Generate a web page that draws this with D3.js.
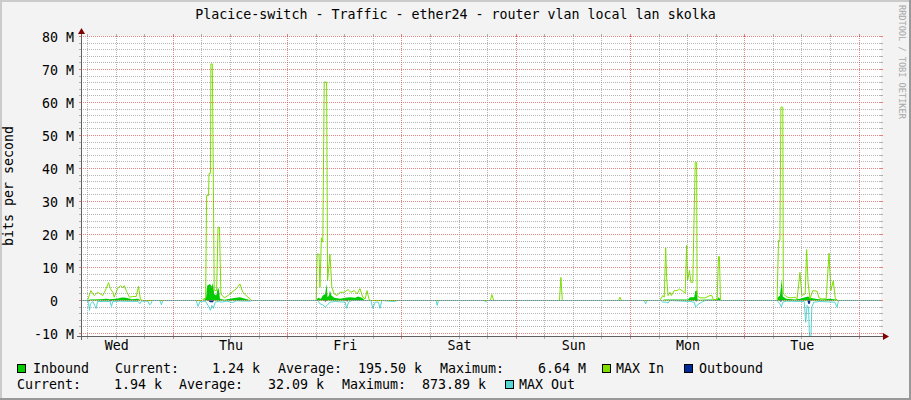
<!DOCTYPE html>
<html lang="en">
<head>
<meta charset="UTF-8"/>
<script src="https://d3js.org/d3.v7.min.js"></script>
<title>Placice-switch traffic</title>
<style>
  body { margin: 0; background: #f3f3f3; }
  svg text { font-family: "DejaVu Sans Mono", monospace; white-space: pre; }
</style>
</head>
<body>
<script type="text/javascript">
// values are Mbit/s, time is hours counted from Wednesday 00:00
var windowStartHour = 4.62;
var windowEndHour   = 172.62;
var yMin = -10.91, yMax = 80;

var maxInHours = [4.6, 6.0, 6.7, 7.4, 8.1, 9.2, 9.9, 10.4, 10.8, 11.3, 11.6, 12.3, 12.9, 13.4, 13.7, 14.2, 14.8, 15.5, 16.2, 16.7, 17.1, 17.6,
  30.0, 30.2, 30.8, 31.0, 31.4, 31.5, 31.8, 31.9, 32.2, 32.6, 33.1, 33.4, 33.7, 34.0, 34.7, 35.5, 36.3, 37.2, 38.0, 38.6, 39.3, 40.1, 40.5,
  54.0, 54.2, 54.6, 54.8, 55.1, 55.4, 55.7, 56.2, 56.4, 56.9, 57.3, 57.8, 58.4, 59.0, 59.9, 60.7, 61.3, 62.0, 62.6, 63.2, 63.8, 64.3, 64.7, 65.1, 65.5,
  90.6, 90.9, 91.3,
  105.1, 105.4, 105.7,
  117.5, 117.8, 118.1,
  126.2, 126.8, 127.1, 127.4, 127.6, 127.9, 128.3, 128.6, 129.2, 129.8, 130.3, 131.0, 131.5, 131.8, 132.0, 132.4, 132.7, 133.1, 133.6, 133.9, 134.0, 134.6, 135.7, 136.7, 137.1, 137.4, 138.2, 138.5, 138.7, 138.9, 139.2,
  150.8, 151.1, 151.4, 151.6, 152.0, 152.1, 152.9, 153.7, 154.6, 155.0, 155.6, 156.0, 156.7, 157.0, 157.3, 157.7, 158.3, 159.2, 159.6, 160.2, 161.1, 161.7, 162.1, 162.6, 163.0, 163.3, 163.6,
  172.6];
var maxInValues = [0, 0, 3, 1.5, 2.5, 1.5, 3.6, 5.4, 3.6, 2.5, 1, 3.6, 4.5, 3.9, 4.5, 2.7, 1, 1.2, 1.2, 4.3, 0.3, 0,
  0, 0.3, 0.8, 31.8, 31.8, 38.5, 38.5, 71.7, 71.7, 3, 3, 22.2, 22.2, 2, 0.8, 1.5, 2.5, 3.5, 5, 2.5, 1.5, 0.5, 0,
  0, 14.1, 14, 4, 19, 17.7, 66.2, 66.2, 6, 14, 4, 2, 1.5, 2.5, 2.5, 3.3, 2.5, 3, 2, 3.6, 1, 0.5, 3, 0.3, 0,
  0, 1.8, 0,
  0, 7, 0,
  0, 1, 0,
  0, 1.5, 1, 16, 7, 1.5, 2.5, 1.5, 3, 3, 3.5, 2.8, 2.2, 16.7, 6, 9.1, 5.5, 5.5, 41.9, 41.9, 1.5, 0.8, 0.8, 1.5, 1.5, 0.3, 0.3, 13.3, 13.3, 0.3, 0,
  0, 18.2, 18.2, 58.6, 58.6, 2, 1, 0.8, 1, 0.5, 8.5, 1.5, 2, 15.4, 5.5, 0.5, 3, 2.8, 0.8, 0.5, 0.5, 14.3, 3, 6, 0.8, 0.2, 0,
  0];

var inHours = [4.6, 5.9, 6.5, 8.6, 9.9, 10.7, 12.4, 13.2, 14.1, 15.3, 16.6, 17.2,
  30.4, 30.9, 31.1, 31.7, 32.1, 32.3, 32.6, 33.0, 33.4, 33.6, 33.8, 34.7, 35.9, 37.2, 38.0, 38.9, 39.7, 40.3,
  54.0, 54.4, 55.0, 55.4, 55.9, 56.2, 56.4, 56.7, 56.9, 57.2, 57.8, 59.0, 60.1, 61.1, 62.2, 62.8, 63.6, 64.3,
  126.6, 127.1, 130.4, 132.1, 132.5, 133.4, 133.6, 134.0, 134.1, 134.6, 136.7, 138.2, 138.5, 138.8, 139.0,
  150.8, 151.0, 151.4, 151.8, 152.0, 152.7, 154.6, 155.6, 156.7, 157.3, 157.7, 158.8, 160.2, 161.9, 163.2, 163.6,
  172.6];
var inValues = [0, 0, 0.3, 0.4, 0.5, 0.4, 0.6, 0.9, 0.8, 0.4, 0.5, 0,
  0, 1, 4.5, 5, 4.2, 5.3, 2, 1.5, 4, 3, 0.5, 0.2, 0.5, 0.8, 1, 0.6, 0.3, 0,
  0, 0.8, 0.5, 1.5, 2, 5, 1, 1.5, 3, 1.5, 0.8, 0.5, 0.8, 1, 0.8, 1.2, 0.8, 0,
  0, 0.3, 0.3, 0.3, 1, 1, 2.8, 3, 0.3, 0.2, 0.3, 0.2, 1, 0.5, 0,
  0, 1, 1.5, 6.5, 1.2, 0.5, 0.3, 0.5, 1, 1.2, 0.8, 0.5, 0.3, 0.5, 0.3, 0,
  0];

var outHours = [4.6, 6.1, 6.3, 6.5, 10.7, 10.9, 11.1, 31.3, 31.7, 32.3, 32.6, 55.7, 55.9, 56.3, 60.3, 60.5, 60.7,
  133.6, 133.8, 134.0, 151.4, 151.6, 151.8, 157.2, 157.3, 157.7, 157.8, 172.6];
var outValues = [0, 0, -0.4, 0, 0, -0.4, 0, 0, -0.5, -0.5, 0, 0, -0.4, 0, 0, -0.4, 0,
  0, -0.4, 0, 0, -0.5, 0, 0, -1, -1, 0, 0];

var maxOutHours = [4.6, 5.9, 6.2, 6.4, 6.6, 7.1, 7.8, 8.1, 10.7, 11.0, 11.3, 12.8, 16.6, 17.0, 17.3, 18.7, 19.0, 19.3, 19.6, 21.2, 21.5, 21.8,
  28.8, 29.2, 29.6, 30.7, 31.1, 31.5, 31.8, 32.1, 32.4, 32.8, 33.4, 34.2, 35.1, 36.5, 37.2, 40.1, 40.5,
  54.4, 54.8, 55.4, 55.9, 56.3, 56.9, 58.0, 60.1, 60.4, 60.8, 61.5, 65.5, 65.9, 66.4, 67.1, 67.4, 67.8, 70.4, 71.0,
  79.2, 79.4, 79.7, 89.3, 89.6, 89.9,
  122.9, 123.2, 123.5, 126.4, 126.8, 127.5, 127.9, 128.3, 132.5, 133.4, 133.7, 134.0, 134.4, 135.0, 135.7,
  150.8, 151.1, 151.4, 151.7, 152.0, 152.7, 156.5, 156.8, 157.1, 157.4, 157.6, 157.9, 158.1, 158.5, 159.8, 162.9, 163.4, 163.7,
  172.6];
var maxOutValues = [0, 0, -0.8, -3, -1, -0.3, -2.4, -0.3, -0.3, -1.8, -0.3, -0.2, -0.3, -1, -0.2, -0.2, -1.3, -1, 0, 0, -1.3, 0,
  0, -1.8, -0.3, -0.2, -1, -2, -3, -1.5, -2.4, -0.5, -0.3, -0.5, -0.2, -0.6, -0.1, -0.2, 0,
  0, -1, -1.3, -2, -1.5, -0.5, -0.3, -0.5, -2.4, -0.5, 0, 0, -2.4, -0.5, -0.5, -2.4, 0, -0.3, 0,
  0, -1.5, 0, 0, -0.5, 0,
  0, -1, 0, 0, -0.5, -0.5, -0.8, 0, -0.3, -0.5, -2, -1.5, -1, -0.5, 0,
  0, -0.5, -1, -2, -0.5, -0.2, -0.3, -6.6, -1.5, -2, -11, -11, -2, -0.5, -0.3, -0.5, -2, 0,
  0];

var yTickValues  = [-10, 0, 10, 20, 30, 40, 50, 60, 70, 80];
var titleText    = "Placice-switch - Traffic - ether24 - router vlan local lan skolka";
var yTitle       = "bits per second";
var seriesNames  = ["Inbound", "MAX In", "Outbound", "MAX Out"];
var statNames    = ["Current:", "Average:", "Maximum:"];
var inStats      = ["1.24 k", "195.50 k", "6.64 M"];
var outStats     = ["1.94 k", "32.09 k", "873.89 k"];
var watermark    = "RRDTOOL / TOBI OETIKER";

var colIn = "#00cc00", colMaxIn = "#7fe000", colOut = "#002a97", colMaxOut = "#55d6d3";

var w = 911, h = 400;
var plotL = 81, plotR = 881, plotT = 36, plotB = 336;

var baseDay = new Date(2024, 0, 3);   // a Wednesday
function hourToDate(hr) { return new Date(baseDay.getTime() + hr * 3600000); }
function zip(hs, vs) { return hs.map(function(t, i) { return { t: hourToDate(t), v: vs[i] }; }); }

var xScale = d3.scaleTime()
               .domain([hourToDate(windowStartHour), hourToDate(windowEndHour)])
               .range([plotL, plotR]);
var yScale = d3.scaleLinear()
               .domain([yMin, yMax])
               .range([plotB + 0.5, plotT + 0.5]);

var svg = d3.select("body").append("svg")
            .attr("width", w).attr("height", h).style("display", "block");

// background and shading
svg.append("rect").attr("width", w).attr("height", h).attr("fill", "#f3f3f3");
svg.append("path").attr("d", "M0,0H" + w + "V2H2V" + h + "H0Z").attr("fill", "#cbcbcb");
svg.append("path").attr("d", "M" + w + ",0V" + h + "H0V" + (h - 2) + "H" + (w - 2) + "V0Z").attr("fill", "#999999");
svg.append("rect").attr("x", plotL).attr("y", plotT).attr("width", plotR - plotL).attr("height", plotB - plotT)
   .attr("fill", "#ffffff");

// data
svg.append("clipPath").attr("id", "plot").append("rect")
   .attr("x", plotL).attr("y", plotT).attr("width", plotR - plotL).attr("height", plotB - plotT + 1);
var g = svg.append("g").attr("clip-path", "url(#plot)");

var line = d3.line().x(function(d) { return xScale(d.t); }).y(function(d) { return yScale(d.v); });
var area = d3.area().x(function(d) { return xScale(d.t); })
             .y0(yScale(0)).y1(function(d) { return yScale(d.v); });

g.append("path").datum(zip(inHours, inValues)).attr("d", area).attr("fill", colIn);
g.append("path").datum(zip(maxInHours, maxInValues)).attr("d", line)
 .attr("fill", "none").attr("stroke", colMaxIn).attr("stroke-width", 1);
g.append("path").datum(zip(outHours, outValues)).attr("d", area).attr("fill", colOut);
g.append("path").datum(zip(maxOutHours, maxOutValues)).attr("d", line)
 .attr("fill", "none").attr("stroke", colMaxOut).attr("stroke-width", 1);

// grid (drawn over the data, like rrdtool)
var minorCol = "rgba(130,130,130,0.6)", majorCol = "rgba(215,50,50,0.6)";
var grid = svg.append("g").attr("shape-rendering", "crispEdges");
d3.range(-10, 81, 2).forEach(function(v) {
    var y = Math.round(yScale(v) - 0.5) + 0.5;
    var c = (v % 10 === 0) ? majorCol : minorCol;
    grid.append("line").attr("x1", plotL).attr("x2", plotR).attr("y1", y).attr("y2", y)
        .attr("stroke", c).attr("stroke-dasharray", "1,1");
    grid.append("line").attr("x1", plotL - 2).attr("x2", plotL + 1).attr("y1", y).attr("y2", y).attr("stroke", c);
    grid.append("line").attr("x1", plotR - 1).attr("x2", plotR + 2).attr("y1", y).attr("y2", y).attr("stroke", c);
});
d3.timeHour.every(6).range(xScale.domain()[0], xScale.domain()[1]).forEach(function(t) {
    var x = Math.floor(xScale(t)) + 0.5;
    var c = (t.getHours() === 0) ? majorCol : minorCol;
    grid.append("line").attr("x1", x).attr("x2", x).attr("y1", plotT).attr("y2", plotB)
        .attr("stroke", c).attr("stroke-dasharray", "1,1");
    grid.append("line").attr("x1", x).attr("x2", x).attr("y1", plotB - 1).attr("y2", plotB + 3).attr("stroke", c);
    grid.append("line").attr("x1", x).attr("x2", x).attr("y1", plotT - 2).attr("y2", plotT + 1).attr("stroke", c);
});

// axes lines and arrows
var axisCol = "#606060", arrowCol = "#800000";
svg.append("line").attr("x1", plotL - 4).attr("x2", plotR + 4).attr("y1", plotB + 0.5).attr("y2", plotB + 0.5)
   .attr("stroke", axisCol);
svg.append("line").attr("x1", plotL + 0.5).attr("x2", plotL + 0.5).attr("y1", plotB + 4).attr("y2", plotT - 3)
   .attr("stroke", axisCol);
svg.append("path").attr("d", "M" + (plotL - 3) + "," + (plotT - 2) + "L" + (plotL + 4) + "," + (plotT - 2) + "L" + (plotL + 0.5) + "," + (plotT - 8) + "Z")
   .attr("fill", arrowCol);
svg.append("path").attr("d", "M" + (plotR + 2) + "," + (plotB - 3) + "L" + (plotR + 2) + "," + (plotB + 4) + "L" + (plotR + 8) + "," + (plotB + 0.5) + "Z")
   .attr("fill", arrowCol);

// y tick labels
var yAxis = d3.axisLeft(yScale).tickValues(yTickValues).tickSize(0).tickPadding(0)
              .tickFormat(function(d) { return d === 0 ? "0  " : d + " M"; });
var yg = svg.append("g").attr("transform", "translate(74,0)").call(yAxis);
yg.select(".domain").remove();
yg.selectAll("text").attr("font-family", "DejaVu Sans Mono").attr("font-size", "13.3px")
  .attr("fill", "#000").attr("dy", "0.36em");

// x day labels at noon
var noons = d3.timeDay.range(d3.timeDay.floor(xScale.domain()[0]), xScale.domain()[1])
              .map(function(d) { return d3.timeHour.offset(d, 12); })
              .filter(function(d) { return d >= xScale.domain()[0] && d <= xScale.domain()[1]; });
var xAxis = d3.axisBottom(xScale).tickValues(noons).tickSize(0).tickPadding(0)
              .tickFormat(d3.timeFormat("%a"));
var xg = svg.append("g").attr("transform", "translate(0,341)").call(xAxis);
xg.select(".domain").remove();
xg.selectAll("text").attr("font-family", "DejaVu Sans Mono").attr("font-size", "13.3px").attr("fill", "#000");

// titles
svg.append("text").attr("x", 455.5).attr("y", 19).attr("text-anchor", "middle")
   .attr("font-size", "13.3px").text(titleText);
svg.append("text").attr("transform", "translate(13,186) rotate(-90)").attr("text-anchor", "middle")
   .attr("font-size", "13.3px").text(yTitle);
svg.append("text").attr("transform", "translate(899,5) rotate(90)")
   .attr("font-size", "8.6px").attr("fill", "#a8a8a8").text(watermark);

// legend
function box(x, y, col) {
    svg.append("rect").attr("x", x + 0.5).attr("y", y + 0.5).attr("width", 8).attr("height", 8)
       .attr("fill", col).attr("stroke", "#000");
}
function txt(x, y, s, anchor) {
    svg.append("text").attr("x", x).attr("y", y).attr("font-size", "13.3px")
       .attr("text-anchor", anchor || "start").text(s);
}
var r1 = 373, r2 = 389;
box(17, 364, colIn);      txt(33, r1, seriesNames[0]);
txt(115, r1, statNames[0]); txt(260, r1, inStats[0], "end");
txt(278, r1, statNames[1]); txt(422, r1, inStats[1], "end");
txt(440, r1, statNames[2]); txt(586, r1, inStats[2], "end");
box(602, 364, colMaxIn);  txt(616, r1, seriesNames[1]);
box(684, 364, colOut);    txt(699, r1, seriesNames[2]);
txt(17, r2, statNames[0]);  txt(162, r2, outStats[0], "end");
txt(179, r2, statNames[1]); txt(324, r2, outStats[1], "end");
txt(342, r2, statNames[2]); txt(486, r2, outStats[2], "end");
box(505, 380, colMaxOut); txt(519, r2, seriesNames[3]);
</script>
</body>
</html>
